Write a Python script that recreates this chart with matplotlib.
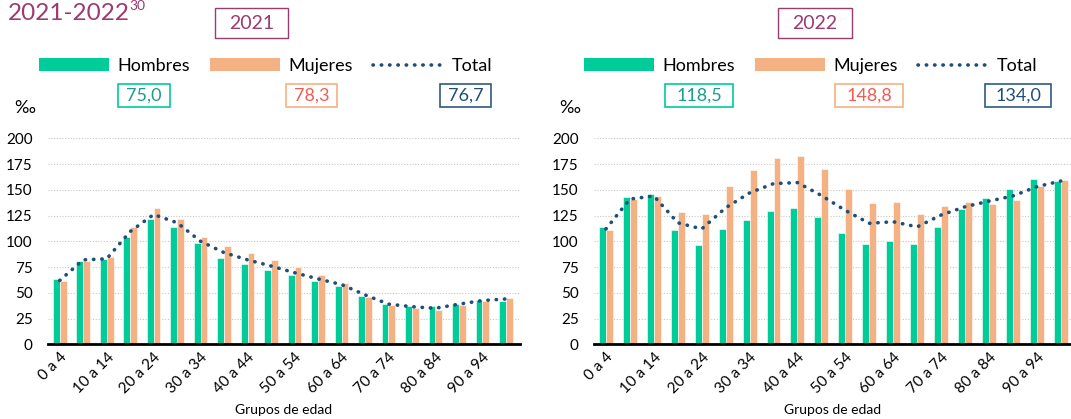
import numpy as np
import matplotlib
matplotlib.use("Agg")
import matplotlib.pyplot as plt
from matplotlib.patches import Patch, Rectangle
from matplotlib.lines import Line2D

plt.rcParams['font.family'] = ['Lato', 'DejaVu Sans']

# -----------------------
#  Datos (tasas por mil)
# -----------------------
grupos = ['0 a 4', '5 a 9', '10 a 14', '15 a 19', '20 a 24', '25 a 29', '30 a 34',
          '35 a 39', '40 a 44', '45 a 49', '50 a 54', '55 a 59', '60 a 64', '65 a 69',
          '70 a 74', '75 a 79', '80 a 84', '85 a 89', '90 a 94', '95 y más']

hombres_2021 = [63, 81, 82.5, 104, 122, 114, 98, 84, 78, 72, 67, 61, 57, 47, 39.5, 37.5, 37.5, 39, 43, 42.5]
mujeres_2021 = [61.5, 81, 84.5, 114, 132, 121.5, 104, 95, 89, 82, 75.5, 67, 59.5, 46, 38.5, 35.5, 33.5, 38.5, 42.5, 45]
total_2021 = [62, 82, 83, 109.5, 126, 118, 100, 89, 82, 76, 69.5, 63.5, 58, 48, 39, 36.5, 35, 39, 42.5, 44]

hombres_2022 = [113.5, 143, 146, 110.5, 96, 111.5, 120.5, 129, 132, 123.5, 108.5, 97, 100, 97.5, 114, 131.5, 142.5, 151, 160, 158.5]
mujeres_2022 = [111, 141.5, 143.5, 128, 126.5, 153.5, 169.5, 181, 183, 170, 151, 137, 138, 126.5, 134.5, 138, 136.5, 140.5, 153.5, 159.5]
total_2022 = [112, 141, 144, 118, 112, 132.5, 147, 156, 157, 144.5, 130, 117.5, 119, 114, 125.5, 133.5, 139, 144, 153, 158.5]

resumen_2021 = ['75,0', '78,3', '76,7']
resumen_2022 = ['118,5', '148,8', '134,0']

VERDE = '#00cc99'
NARANJA = '#f4b183'
AZUL = '#1f4e79'
MORADO = '#9b3b6e'

W, H = 1071, 419
fig = plt.figure(figsize=(W / 100, H / 100), dpi=100)


def fx(px):
    return px / W


def fy(py):
    return 1 - py / H


def caja(x0, x1, y0, y1, color, lw=1.2):
    # recuadro en coordenadas de pixel de la figura
    fig.add_artist(Rectangle((fx(x0), fy(y1)), fx(x1 - x0), (y1 - y0) / H,
                             transform=fig.transFigure, facecolor='white',
                             edgecolor=color, linewidth=lw, zorder=1))


def panel(rect, h, m, t, xmax, ylabel_x):
    ax = fig.add_axes(rect)
    x = np.arange(len(grupos))
    bw = 0.29
    ax.bar(x - bw / 2, h, bw, color=VERDE, edgecolor='white', linewidth=0.4, zorder=2)
    ax.bar(x + bw / 2, m, bw, color=NARANJA, edgecolor='white', linewidth=0.4, zorder=2)
    ax.plot(x, t, color=AZUL, linestyle=(0, (0.1, 2.2)), linewidth=2.6,
            dash_capstyle='round', zorder=3)
    ax.set_xlim(-0.5, xmax)
    ax.set_ylim(0, 200)
    ax.set_yticks(range(0, 201, 25))
    ax.yaxis.grid(True, color='#c8c8c8', linestyle=(0, (1, 1.5)), linewidth=0.8, zorder=0)
    ax.set_axisbelow(True)
    ax.set_xticks(x[::2])
    ax.set_xticklabels(grupos[::2], rotation=45, ha='right', rotation_mode='anchor',
                       fontsize=11)
    ax.tick_params(axis='x', length=0, pad=4)
    ax.tick_params(axis='y', length=0, labelsize=11, pad=11)
    for s in ['top', 'right', 'left']:
        ax.spines[s].set_visible(False)
    ax.spines['bottom'].set_linewidth(2)
    ax.spines['bottom'].set_color('black')
    ax.set_xlabel('Grupos de edad', fontsize=10, labelpad=6)
    fig.text(fx(ylabel_x), fy(108), '‰', fontsize=13, ha='left', va='center')
    return ax


ax1 = panel([fx(48), fy(344.3), fx(520 - 48), (344.3 - 138.3) / H],
            hombres_2021, mujeres_2021, total_2021, 19.6, 14)
ax2 = panel([fx(594), fy(344.3), fx(1071 - 594), (344.3 - 138.3) / H],
            hombres_2022, mujeres_2022, total_2022, 19.43, 559)

# Título con superíndice
titulo = fig.text(fx(8), fy(14), '2021-2022', color=MORADO, fontsize=17.5,
                  ha='left', va='center')
ax1.annotate('30', xy=(1, 1), xycoords=titulo, xytext=(-0.5, 2.5),
             textcoords='offset points', color=MORADO, fontsize=10,
             ha='left', va='top', annotation_clip=False)

# Cajas de año
for x0, x1, txt in [(215, 288, '2021'), (778, 852, '2022')]:
    caja(x0, x1, 8, 38, MORADO, lw=1)
    fig.text(fx((x0 + x1) / 2), fy(23.5), txt, color=MORADO, fontsize=14,
             ha='center', va='center', zorder=2)

# Leyendas
handles = [Patch(facecolor=VERDE, edgecolor='none'),
           Patch(facecolor=NARANJA, edgecolor='none'),
           Line2D([0], [0], color=AZUL, linestyle=(0, (0.1, 2.2)), linewidth=2.6,
                  dash_capstyle='round')]
for x0 in [39, 584]:
    fig.legend(handles, ['Hombres', 'Mujeres', 'Total'], loc='center left',
               bbox_to_anchor=(fx(x0), fy(66)), ncol=3, frameon=False, fontsize=13,
               handlelength=3.9, handleheight=0.75, handletextpad=0.45,
               columnspacing=1.1, borderpad=0, borderaxespad=0)

# Valores totales
col_txt = ['#1a9e8c', '#f25c54', AZUL]
col_box = [VERDE, NARANJA, '#2e5a85']
cajas_2021 = [(118, 170), (286, 337), (440, 491)]
cajas_2022 = [(665, 733), (835, 903), (985, 1051)]
for xs, vals in [(cajas_2021, resumen_2021), (cajas_2022, resumen_2022)]:
    for (x0, x1), v, ct, cb in zip(xs, vals, col_txt, col_box):
        caja(x0, x1, 84, 107, cb)
        fig.text(fx((x0 + x1) / 2), fy(96), v, color=ct, fontsize=13,
                 ha='center', va='center', zorder=2)

fig.savefig('out.png', dpi=100)
